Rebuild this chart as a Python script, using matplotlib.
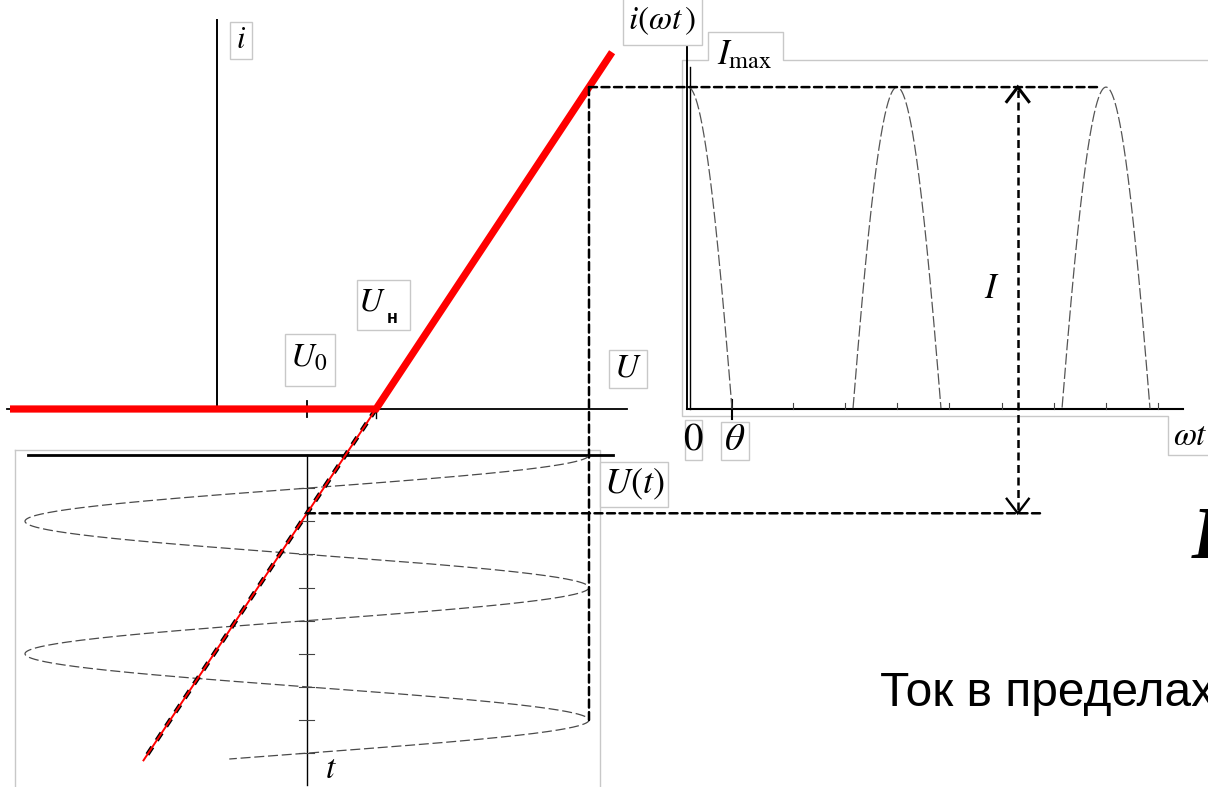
import numpy as np
import matplotlib
matplotlib.use("Agg")
import matplotlib.pyplot as plt
from matplotlib.patches import ConnectionPatch, Rectangle

plt.rcParams["mathtext.fontset"] = "stix"
plt.rcParams["font.family"] = ["Liberation Serif", "DejaVu Sans"]

# --- параметры режима ---
U0 = 3.0          # напряжение смещения
U_cut = 5.3       # напряжение отсечки U_н
U_amp = 9.4       # амплитуда входного напряжения
S = 1.408         # крутизна линейного участка

# кусочно-линейная характеристика i(U)
char_u = [-6.9, U_cut, 13.17]
char_i = [0.0, 0.0, 11.08]
# продолжение линейного участка ниже отсечки
tail_u = [U_cut, -2.45]

t_end = 826                      # конец развёртки U(t), град
t_ticks = [90, 180, 270, 360, 450, 540, 630, 720, 810]
wt_end = 852                     # длина оси ωt, град
wt_pulse_end = 800
wt_ticks = [180, 270, 360, 450, 540, 630, 720, 810]

U_peak = U0 + U_amp
I_max = S * (U_peak - U_cut)
i_low = S * (U0 - U_cut)
theta = np.degrees(np.arccos((U_cut - U0) / U_amp))
tail_i = [S * (u - U_cut) for u in tail_u]

W, H = 1208, 787
fig = plt.figure(figsize=(W / 100, H / 100), dpi=100)


def panel(x0, y0, x1, y1, ox, sx, oy, sy, z):
    # оси, заданные в пикселях: (ox, oy) - начало координат, sx, sy - пикселей на единицу
    ax = fig.add_axes([x0 / W, 1 - y1 / H, (x1 - x0) / W, (y1 - y0) / H], zorder=z)
    ax.set_xlim((x0 - ox) / sx, (x1 - ox) / sx)
    ax.set_ylim((oy - y1) / sy, (oy - y0) / sy)
    ax.set_axis_off()
    return ax


def overlay(z):
    ax = fig.add_axes([0, 0, 1, 1], zorder=z)
    ax.set_xlim(0, W)
    ax.set_ylim(H, 0)
    ax.set_axis_off()
    return ax


bg = overlay(0)
ax_iu = panel(0, 0, 650, 787, 217, 30, 409, 32.2, 3)
ax_ut = panel(0, 440, 650, 787, 217, 30, 455, -132.5 / 360, 1)
ax_iw = panel(660, 0, 1208, 787, 688, 209 / 360, 409, 32.2, 2)
fg = overlay(6)

grey = "#c8c8c8"
guide = dict(color="black", lw=1.8, linestyle=(0, (3.2, 1.8)))

# рамки вставок
bg.plot([15, 600, 600], [450, 450, 800], color=grey, lw=1)
bg.plot([15, 15], [450, 800], color=grey, lw=1)
bg.plot([1208, 783, 783, 708, 708, 682, 682, 1168, 1168, 1208],
        [60, 60, 32, 32, 60, 60, 416, 416, 455, 455], color=grey, lw=1)

# --- характеристика i(U) ---
ax_iu.plot([0, 0], [0, 12.08], color="black", lw=1.4)
ax_iu.plot([-7.0, 13.67], [0, 0], color="black", lw=1.3)
ax_iu.plot([U0, U0], [0.24, -0.26], color="black", lw=1.3)
ax_iu.plot([U_cut, U_cut], [0, -0.28], color="black", lw=1.0)
ax_iu.plot(tail_u, tail_i, color="black", lw=3.2, linestyle=(0, (2.0, 1.8)), zorder=2)
ax_iu.plot(tail_u, tail_i, color="red", lw=1.4, zorder=3)
ax_iu.plot(char_u, char_i, color="red", lw=5.2, solid_joinstyle="miter",
           solid_capstyle="butt", zorder=4)

# --- входное напряжение U(t) ---
t = np.linspace(0, t_end, 1500)
u_t = U0 + U_amp * np.cos(np.radians(t))
ax_ut.plot([-6.3, 13.2], [0, 0], color="black", lw=2.0)
ax_ut.plot([U0, U0], [0, 897], color="black", lw=1.0)
for tk in t_ticks:
    ax_ut.plot([U0 - 0.25, U0 + 0.25], [tk, tk], color="#444444", lw=0.8)
ax_ut.plot(u_t, t, color="#4a4a4a", lw=0.9, linestyle=(0, (8, 3)))

# --- импульсы тока i(ωt) ---
wt = np.linspace(0, wt_pulse_end, 4000)
i_wt = S * (U0 + U_amp * np.cos(np.radians(wt)) - U_cut)
i_wt[i_wt < 0] = np.nan
ax_iw.plot([-2.2, -2.2], [0, 11.3], color="black", lw=1.4)
ax_iw.plot([3.4, 3.4], [0, 10.62], color="black", lw=1.0)
ax_iw.plot([-2.2, wt_end], [0, 0], color="black", lw=1.5)
ax_iw.plot([theta, theta], [0.28, -0.3], color="black", lw=1.5)
for wk in wt_ticks:
    ax_iw.plot([wk, wk], [0, 0.2], color="#444444", lw=0.8)
ax_iw.plot(wt, i_wt, color="#555555", lw=0.9, linestyle=(0, (9, 2.5)))

# стрелка I: размах от I_max до продолжения характеристики при U0
x_arr = 568
ax_iw.plot([x_arr, x_arr], [i_low + 0.1, I_max - 0.1], **guide)
ax_iw.plot([x_arr - 19, x_arr, x_arr + 19], [I_max - 0.45, I_max, I_max - 0.45],
           color="black", lw=2.2, solid_joinstyle="miter")
ax_iw.plot([x_arr - 19, x_arr, x_arr + 19], [i_low + 0.45, i_low, i_low + 0.45],
           color="black", lw=1.7, solid_joinstyle="miter")

# проекционные линии между графиками
for xyA, axA, xyB, axB in [
    ((U_peak, I_max), ax_iu, (709, I_max), ax_iw),
    ((U_peak, I_max), ax_iu, (U_peak, 720), ax_ut),
    ((U0, i_low), ax_iu, (610, i_low), ax_iw),
]:
    con = ConnectionPatch(xyA=xyA, coordsA=axA.transData, xyB=xyB,
                          coordsB=axB.transData, zorder=5, **guide)
    fig.add_artist(con)

# --- подписи ---
boxes = [(230, 22, 252, 59), (285, 334, 335, 386), (357, 280, 410, 330),
         (609, 350, 647, 388), (623, -2, 702, 45), (600, 462, 668, 507),
         (685, 420, 702, 460), (721, 422, 749, 460)]
for x0, y0, x1, y1 in boxes:
    fg.add_patch(Rectangle((x0, y0), x1 - x0, y1 - y0, fc="white", ec=grey, lw=1, zorder=1))

def label(x, y, s, size, **kw):
    fg.text(x, y, s, fontsize=size, ha="center", va="center", zorder=2, **kw)

label(241, 40, "$i$", 22)
label(309, 358, "$U_0$", 24)
label(372, 302, "$U$", 24)
fg.text(387, 323, "н", fontsize=13, family="Liberation Sans", weight="bold",
        ha="left", va="baseline", zorder=2)
label(628, 368, "$U$", 24)
label(662, 21, r"$i(\omega t\,)$", 24)
label(745, 56, r"$I_{\rm max}$", 25)
label(634, 484, "$U(t)$", 26)
label(693, 440, "$0$", 28)
label(735, 441, r"$\theta$", 28)
label(1190, 437, r"$\omega t$", 24)
label(992, 289, "$I$", 25)
label(331, 770, "$t$", 24)
fg.text(1192, 558, "I", fontsize=54, style="italic", weight="bold",
        family="Liberation Serif", ha="left", va="baseline")
fg.text(880, 706, "Ток в пределах", fontsize=34.5, family="Liberation Sans",
        ha="left", va="baseline")

plt.savefig("out.png", dpi=100, facecolor="white")
